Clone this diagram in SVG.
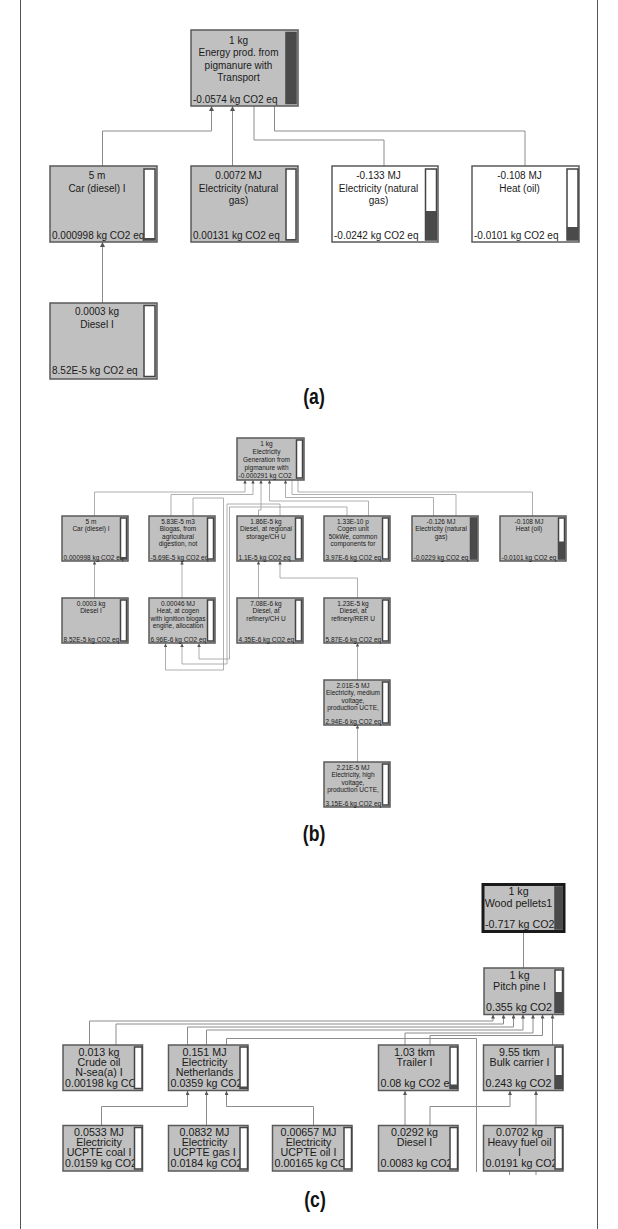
<svg xmlns="http://www.w3.org/2000/svg" width="618" height="1229" viewBox="0 0 618 1229">
<style>
.bg{fill:#fff}
.frame{stroke:#555;stroke-width:1;fill:none}
.n{fill:#c0c0c0;stroke:#5a5a5a;stroke-width:1.5}
.nw{fill:#fff;stroke:#5a5a5a;stroke-width:1.5}
.sel{fill:#c0c0c0;stroke:#1a1a1a;stroke-width:3}
.bar{fill:#fff;stroke:#444;stroke-width:1.5}
.bd{fill:#4a4a4a}
.c{fill:none;stroke:#8c8c8c;stroke-width:1}
.cb{fill:none;stroke:#9a9a9a;stroke-width:0.8}
text{font-family:"Liberation Sans",Arial,sans-serif;fill:#1a1a1a}
.ta{font-size:10px}
.tb{font-size:6.5px}
.tc{font-size:10.7px}
.m{text-anchor:middle}
.lab{font-family:"Liberation Sans",Arial,sans-serif;font-weight:bold;font-size:22px;text-anchor:middle;fill:#111}
</style>
<defs>
<marker id="arA" viewBox="0 0 10 10" refX="10" refY="5" markerWidth="6" markerHeight="5" markerUnits="userSpaceOnUse" orient="auto"><path d="M0,0L10,5L0,10z" fill="#555"/></marker>
<marker id="arB" viewBox="0 0 10 10" refX="10" refY="5" markerWidth="4" markerHeight="3.5" markerUnits="userSpaceOnUse" orient="auto"><path d="M0,0L10,5L0,10z" fill="#555"/></marker>
<marker id="arC" viewBox="0 0 10 10" refX="10" refY="5" markerWidth="5" markerHeight="4" markerUnits="userSpaceOnUse" orient="auto"><path d="M0,0L10,5L0,10z" fill="#555"/></marker>
<clipPath id="kWood"><rect x="483" y="884" width="72" height="48"/></clipPath>
<clipPath id="kPitch"><rect x="484" y="968" width="70.5" height="46"/></clipPath>
<clipPath id="kCrude"><rect x="63" y="1045" width="71.5" height="45.5"/></clipPath>
<clipPath id="kNL"><rect x="168.5" y="1045" width="71.5" height="45.5"/></clipPath>
<clipPath id="kTrl"><rect x="378.5" y="1045" width="71.5" height="45.5"/></clipPath>
<clipPath id="kBulk"><rect x="483.5" y="1045" width="71.5" height="45.5"/></clipPath>
<clipPath id="kCoal"><rect x="63" y="1125.5" width="71.5" height="45.5"/></clipPath>
<clipPath id="kGas"><rect x="168.5" y="1125.5" width="71.5" height="45.5"/></clipPath>
<clipPath id="kOil"><rect x="272.5" y="1125.5" width="71.5" height="45.5"/></clipPath>
<clipPath id="kDsl"><rect x="378.5" y="1125.5" width="71.5" height="45.5"/></clipPath>
<clipPath id="kHfo"><rect x="483.5" y="1125.5" width="71.5" height="45.5"/></clipPath>
</defs>
<rect class="bg" x="0" y="0" width="618" height="1229"/>
<line class="frame" x1="20.5" y1="0" x2="20.5" y2="1229"/>
<line class="frame" x1="597.5" y1="0" x2="597.5" y2="1229"/>

<!-- ===== (a) ===== -->
<g id="conn-a">
<path class="c" d="M102.5,166V131H211.5V106" marker-end="url(#arA)"/>
<path class="c" d="M232.5,166V106" marker-end="url(#arA)"/>
<path class="c" d="M384,166V140H254V106"/>
<path class="c" d="M525,166V131H274.5V106"/>
<path class="c" d="M102.5,303V242" marker-end="url(#arA)"/>
</g>
<g id="a-top">
<rect class="n" x="191" y="30" width="107" height="76"/>
<text class="ta m" x="238.5" y="43.5">1 kg</text>
<text class="ta m" x="238.5" y="56">Energy prod. from</text>
<text class="ta m" x="238.5" y="68.5">pigmanure with</text>
<text class="ta m" x="238.5" y="81">Transport</text>
<text class="ta" x="193" y="102.5">-0.0574 kg CO2 eq</text>
<rect class="bar" x="286" y="32.5" width="10" height="71"/>
<rect class="bd" x="286" y="32.5" width="10" height="71"/>
</g>
<g id="a-car">
<rect class="n" x="50" y="166" width="107" height="76"/>
<text class="ta m" x="97" y="179">5 m</text>
<text class="ta m" x="97" y="191.5">Car (diesel) I</text>
<text class="ta" x="52" y="238.5">0.000998 kg CO2 eq</text>
<rect class="bar" x="144" y="169" width="11" height="71"/>
<rect class="bd" x="144" y="238" width="11" height="2"/>
</g>
<g id="a-elec">
<rect class="n" x="191" y="166" width="107" height="76"/>
<text class="ta m" x="238.5" y="179">0.0072 MJ</text>
<text class="ta m" x="238.5" y="191.5">Electricity (natural</text>
<text class="ta m" x="238.5" y="204">gas)</text>
<text class="ta" x="193" y="238.5">0.00131 kg CO2 eq</text>
<rect class="bar" x="286" y="169" width="10" height="71"/>
<rect class="bd" x="286" y="239" width="10" height="1"/>
</g>
<g id="a-elec2">
<rect class="nw" x="332" y="166" width="106" height="76"/>
<text class="ta m" x="378.5" y="179">-0.133 MJ</text>
<text class="ta m" x="378.5" y="191.5">Electricity (natural</text>
<text class="ta m" x="378.5" y="204">gas)</text>
<text class="ta" x="334" y="238.5">-0.0242 kg CO2 eq</text>
<rect class="bar" x="425.5" y="169" width="11" height="71"/>
<rect class="bd" x="425.5" y="211" width="11" height="29"/>
</g>
<g id="a-heat">
<rect class="nw" x="472" y="166" width="107" height="76"/>
<text class="ta m" x="519.5" y="179">-0.108 MJ</text>
<text class="ta m" x="519.5" y="191.5">Heat (oil)</text>
<text class="ta" x="474" y="238.5">-0.0101 kg CO2 eq</text>
<rect class="bar" x="567" y="169" width="11" height="71"/>
<rect class="bd" x="567" y="227" width="11" height="13"/>
</g>
<g id="a-diesel">
<rect class="n" x="50" y="303" width="107" height="76"/>
<text class="ta m" x="97" y="315">0.0003 kg</text>
<text class="ta m" x="97" y="327.5">Diesel I</text>
<text class="ta" x="52" y="374">8.52E-5 kg CO2 eq</text>
<rect class="bar" x="144" y="305.5" width="11" height="71"/>
</g>
<text class="lab" transform="translate(314,404) scale(0.8,1)" x="0" y="0">(a)</text>

<!-- ===== (b) ===== -->
<g id="conn-b">
<path class="cb" d="M94.5,516V492H245V480" marker-end="url(#arB)"/>
<path class="cb" d="M171,516V494.5H253V480" marker-end="url(#arB)"/>
<path class="cb" d="M193,516V498H223.5V670H165.5V643.5" marker-end="url(#arB)"/>
<path class="cb" d="M258.5,516V510H261V480" marker-end="url(#arB)"/>
<path class="cb" d="M280,516V504H227V664H182V643.5" marker-end="url(#arB)"/>
<path class="cb" d="M347,516V507H229.5V659H199V643.5" marker-end="url(#arB)"/>
<path class="cb" d="M368.5,516V501H269.5V480" marker-end="url(#arB)"/>
<path class="cb" d="M433.5,516V497.5H285.5V480" marker-end="url(#arB)"/>
<path class="cb" d="M456,516V494.5H292V480"/>
<path class="cb" d="M532.5,516V492H298V480"/>
<path class="cb" d="M94.5,598V561" marker-end="url(#arB)"/>
<path class="cb" d="M182,598V561" marker-end="url(#arB)"/>
<path class="cb" d="M258.5,598V561" marker-end="url(#arB)"/>
<path class="cb" d="M357.5,598V578H280V561" marker-end="url(#arB)"/>
<path class="cb" d="M357.5,680V643" marker-end="url(#arB)"/>
<path class="cb" d="M357.5,762V725" marker-end="url(#arB)"/>
</g>
<g id="b-top">
<rect class="n" x="237" y="438" width="67" height="42"/>
<text class="tb m" x="266.5" y="446">1 kg</text>
<text class="tb m" x="266.5" y="454">Electricity</text>
<text class="tb m" x="266.5" y="462">Generation from</text>
<text class="tb m" x="266.5" y="470">pigmanure with</text>
<text class="tb" x="238.5" y="477.5">-0.000291 kg CO2</text>
<rect class="bar" x="296.5" y="440" width="6" height="38"/>
</g>
<g id="b-car">
<rect class="n" x="62" y="516" width="66" height="45"/>
<text class="tb m" x="91" y="523.5">5 m</text>
<text class="tb m" x="91" y="531">Car (diesel) I</text>
<text class="tb" x="63.5" y="559.5">0.000998 kg CO2 eq</text>
<rect class="bar" x="120.5" y="518" width="6" height="41"/>
<rect class="bd" x="120.5" y="557" width="6" height="2"/>
</g>
<g id="b-biogas">
<rect class="n" x="149" y="516" width="66" height="45"/>
<text class="tb m" x="178" y="523.5">5.83E-5 m3</text>
<text class="tb m" x="178" y="531">Biogas, from</text>
<text class="tb m" x="178" y="538.5">agricultural</text>
<text class="tb m" x="178" y="546">digestion, not</text>
<text class="tb" x="150.5" y="559.5">-5.69E-5 kg CO2 eq</text>
<rect class="bar" x="207.5" y="518" width="6" height="41"/>
</g>
<g id="b-dieselreg">
<rect class="n" x="237" y="516" width="66" height="45"/>
<text class="tb m" x="266" y="523.5">1.86E-5 kg</text>
<text class="tb m" x="266" y="531">Diesel, at regional</text>
<text class="tb m" x="266" y="538.5">storage/CH U</text>
<text class="tb" x="238.5" y="559.5">1.1E-5 kg CO2 eq</text>
<rect class="bar" x="295.5" y="518" width="6" height="41"/>
</g>
<g id="b-cogen">
<rect class="n" x="324" y="516" width="66" height="45"/>
<text class="tb m" x="353" y="523.5">1.33E-10 p</text>
<text class="tb m" x="353" y="531">Cogen unit</text>
<text class="tb m" x="353" y="538.5">50kWe, common</text>
<text class="tb m" x="353" y="546">components for</text>
<text class="tb" x="325.5" y="559.5">3.97E-6 kg CO2 eq</text>
<rect class="bar" x="382.5" y="518" width="6" height="41"/>
</g>
<g id="b-elecng">
<rect class="n" x="412" y="516" width="66" height="45"/>
<text class="tb m" x="441" y="523.5">-0.126 MJ</text>
<text class="tb m" x="441" y="531">Electricity (natural</text>
<text class="tb m" x="441" y="538.5">gas)</text>
<text class="tb" x="413.5" y="559.5">-0.0229 kg CO2 eq</text>
<rect class="bar" x="470.5" y="518" width="6" height="41"/>
<rect class="bd" x="470.5" y="518" width="6" height="41"/>
</g>
<g id="b-heatoil">
<rect class="n" x="500" y="516" width="66" height="45"/>
<text class="tb m" x="529" y="523.5">-0.108 MJ</text>
<text class="tb m" x="529" y="531">Heat (oil)</text>
<text class="tb" x="501.5" y="559.5">-0.0101 kg CO2 eq</text>
<rect class="bar" x="558.5" y="518" width="6" height="41"/>
<rect class="bd" x="558.5" y="541.5" width="6" height="17.5"/>
</g>
<g id="b-diesel">
<rect class="n" x="62" y="598" width="66" height="45"/>
<text class="tb m" x="91" y="605.5">0.0003 kg</text>
<text class="tb m" x="91" y="613">Diesel I</text>
<text class="tb" x="63.5" y="641.5">8.52E-5 kg CO2 eq</text>
<rect class="bar" x="120.5" y="600" width="6" height="41"/>
</g>
<g id="b-heatcogen">
<rect class="n" x="149" y="598" width="66" height="45"/>
<text class="tb m" x="178" y="605.5">0.00046 MJ</text>
<text class="tb m" x="178" y="613">Heat, at cogen</text>
<text class="tb m" x="178" y="620.5">with ignition biogas</text>
<text class="tb m" x="178" y="628">engine, allocation</text>
<text class="tb" x="150.5" y="641.5">6.96E-6 kg CO2 eq</text>
<rect class="bar" x="207.5" y="600" width="6" height="41"/>
</g>
<g id="b-dieselch">
<rect class="n" x="237" y="598" width="66" height="45"/>
<text class="tb m" x="266" y="605.5">7.08E-6 kg</text>
<text class="tb m" x="266" y="613">Diesel, at</text>
<text class="tb m" x="266" y="620.5">refinery/CH U</text>
<text class="tb" x="238.5" y="641.5">4.35E-6 kg CO2 eq</text>
<rect class="bar" x="295.5" y="600" width="6" height="41"/>
</g>
<g id="b-dieselrer">
<rect class="n" x="324" y="598" width="66" height="45"/>
<text class="tb m" x="353" y="605.5">1.23E-5 kg</text>
<text class="tb m" x="353" y="613">Diesel, at</text>
<text class="tb m" x="353" y="620.5">refinery/RER U</text>
<text class="tb" x="325.5" y="641.5">5.87E-6 kg CO2 eq</text>
<rect class="bar" x="382.5" y="600" width="6" height="41"/>
</g>
<g id="b-elecmed">
<rect class="n" x="324" y="680" width="66" height="45"/>
<text class="tb m" x="353" y="687.5">2.01E-5 MJ</text>
<text class="tb m" x="353" y="695">Electricity, medium</text>
<text class="tb m" x="353" y="702.5">voltage,</text>
<text class="tb m" x="353" y="710">production UCTE,</text>
<text class="tb" x="325.5" y="723.5">2.94E-6 kg CO2 eq</text>
<rect class="bar" x="382.5" y="682" width="6" height="41"/>
</g>
<g id="b-elechigh">
<rect class="n" x="324" y="762" width="66" height="45"/>
<text class="tb m" x="353" y="769.5">2.21E-5 MJ</text>
<text class="tb m" x="353" y="777">Electricity, high</text>
<text class="tb m" x="353" y="784.5">voltage,</text>
<text class="tb m" x="353" y="792">production UCTE,</text>
<text class="tb" x="325.5" y="805.5">3.15E-6 kg CO2 eq</text>
<rect class="bar" x="382.5" y="764" width="6" height="41"/>
</g>
<text class="lab" transform="translate(314,841) scale(0.8,1)" x="0" y="0">(b)</text>

<!-- ===== (c) ===== -->
<g id="conn-c">
<path class="c" d="M523.5,933V968"/>
<path class="c" d="M89.5,1045V1021H493V1014.5" marker-end="url(#arC)"/>
<path class="c" d="M116,1045V1024H503.5V1014.5" marker-end="url(#arC)"/>
<path class="c" d="M187.5,1045V1027H513.5V1014.5" marker-end="url(#arC)"/>
<path class="c" d="M206.5,1045V1030H523V1014.5" marker-end="url(#arC)"/>
<path class="c" d="M405,1045V1033H533V1014.5" marker-end="url(#arC)"/>
<path class="c" d="M430,1045V1035.5H542.5V1014.5" marker-end="url(#arC)"/>
<path class="c" d="M552.5,1045V1014.5" marker-end="url(#arC)"/>
<path class="c" d="M226.5,1045V1038.5H476.5V1172"/>
<path class="c" d="M101.5,1125.5V1106.5H187.5V1091" marker-end="url(#arC)"/>
<path class="c" d="M206.5,1125.5V1091" marker-end="url(#arC)"/>
<path class="c" d="M313.5,1125.5V1106.5H226.5V1091" marker-end="url(#arC)"/>
<path class="c" d="M405,1125.5V1091" marker-end="url(#arC)"/>
<path class="c" d="M430,1125.5V1106.5H510V1091" marker-end="url(#arC)"/>
<path class="c" d="M536,1125.5V1091" marker-end="url(#arC)"/>
<path class="c" d="M509.5,1171V1175M536,1171V1175"/>
</g>
<g id="c-wood">
<rect class="sel" x="483" y="884.5" width="81" height="47"/>
<text class="tc m" x="518.5" y="895">1 kg</text>
<text class="tc m" x="518.5" y="906.5">Wood pellets1</text>
<text class="tc" x="485" y="928" clip-path="url(#kWood)">-0.717 kg CO2</text>
<rect class="bar" x="555" y="887" width="7" height="42"/>
<rect class="bd" x="555" y="887" width="7" height="42"/>
</g>
<g id="c-pitch">
<rect class="n" x="484" y="968" width="79.5" height="46.5"/>
<text class="tc m" x="519.5" y="978.5">1 kg</text>
<text class="tc m" x="519.5" y="989.5">Pitch pine I</text>
<text class="tc" x="486" y="1011" clip-path="url(#kPitch)">0.355 kg CO2</text>
<rect class="bar" x="555" y="970" width="7.5" height="42.5"/>
<rect class="bd" x="555" y="992" width="7.5" height="20.5"/>
</g>
<g id="c-crude">
<rect class="n" x="63" y="1045" width="79.5" height="45.5"/>
<text class="tc m" x="99" y="1055.5">0.013 kg</text>
<text class="tc m" x="99" y="1065.5">Crude oil</text>
<text class="tc m" x="99" y="1075.5">N-sea(a) I</text>
<text class="tc" x="65" y="1086.5" clip-path="url(#kCrude)">0.00198 kg CO</text>
<rect class="bar" x="134.5" y="1047" width="7.5" height="41.5"/>
</g>
<g id="c-elecnl">
<rect class="n" x="168.5" y="1045" width="79.5" height="45.5"/>
<text class="tc m" x="204.5" y="1055.5">0.151 MJ</text>
<text class="tc m" x="204.5" y="1065.5">Electricity</text>
<text class="tc m" x="204.5" y="1075.5">Netherlands</text>
<text class="tc" x="170.5" y="1086.5" clip-path="url(#kNL)">0.0359 kg CO2</text>
<rect class="bar" x="240" y="1047" width="7.5" height="41.5"/>
<rect class="bd" x="240" y="1086.5" width="7.5" height="2"/>
</g>
<g id="c-trailer">
<rect class="n" x="378.5" y="1045" width="79.5" height="45.5"/>
<text class="tc m" x="414.5" y="1055.5">1.03 tkm</text>
<text class="tc m" x="414.5" y="1065.5">Trailer I</text>
<text class="tc" x="380.5" y="1086.5" clip-path="url(#kTrl)">0.08 kg CO2 eq</text>
<rect class="bar" x="450" y="1047" width="7.5" height="41.5"/>
<rect class="bd" x="450" y="1084.5" width="7.5" height="4"/>
</g>
<g id="c-bulk">
<rect class="n" x="483.5" y="1045" width="79.5" height="45.5"/>
<text class="tc m" x="519.5" y="1055.5">9.55 tkm</text>
<text class="tc m" x="519.5" y="1065.5">Bulk carrier I</text>
<text class="tc" x="485.5" y="1086.5" clip-path="url(#kBulk)">0.243 kg CO2</text>
<rect class="bar" x="555" y="1047" width="7.5" height="41.5"/>
<rect class="bd" x="555" y="1075" width="7.5" height="13.5"/>
</g>
<g id="c-coal">
<rect class="n" x="63" y="1125.5" width="79.5" height="45.5"/>
<text class="tc m" x="99" y="1136">0.0533 MJ</text>
<text class="tc m" x="99" y="1146">Electricity</text>
<text class="tc m" x="99" y="1156">UCPTE coal I</text>
<text class="tc" x="65" y="1167" clip-path="url(#kCoal)">0.0159 kg CO2</text>
<rect class="bar" x="134.5" y="1127.5" width="7.5" height="41.5"/>
</g>
<g id="c-gas">
<rect class="n" x="168.5" y="1125.5" width="79.5" height="45.5"/>
<text class="tc m" x="204.5" y="1136">0.0832 MJ</text>
<text class="tc m" x="204.5" y="1146">Electricity</text>
<text class="tc m" x="204.5" y="1156">UCPTE gas I</text>
<text class="tc" x="170.5" y="1167" clip-path="url(#kGas)">0.0184 kg CO2</text>
<rect class="bar" x="240" y="1127.5" width="7.5" height="41.5"/>
</g>
<g id="c-oil">
<rect class="n" x="272.5" y="1125.5" width="79.5" height="45.5"/>
<text class="tc m" x="308.5" y="1136">0.00657 MJ</text>
<text class="tc m" x="308.5" y="1146">Electricity</text>
<text class="tc m" x="308.5" y="1156">UCPTE oil I</text>
<text class="tc" x="274.5" y="1167" clip-path="url(#kOil)">0.00165 kg CO</text>
<rect class="bar" x="344" y="1127.5" width="7.5" height="41.5"/>
</g>
<g id="c-diesel">
<rect class="n" x="378.5" y="1125.5" width="79.5" height="45.5"/>
<text class="tc m" x="414.5" y="1136">0.0292 kg</text>
<text class="tc m" x="414.5" y="1146">Diesel I</text>
<text class="tc" x="380.5" y="1167" clip-path="url(#kDsl)">0.0083 kg CO2</text>
<rect class="bar" x="450" y="1127.5" width="7.5" height="41.5"/>
</g>
<g id="c-hfo">
<rect class="n" x="483.5" y="1125.5" width="79.5" height="45.5"/>
<text class="tc m" x="519.5" y="1136">0.0702 kg</text>
<text class="tc m" x="519.5" y="1146">Heavy fuel oil</text>
<text class="tc m" x="519.5" y="1156">I</text>
<text class="tc" x="485.5" y="1167" clip-path="url(#kHfo)">0.0191 kg CO2</text>
<rect class="bar" x="555" y="1127.5" width="7.5" height="41.5"/>
</g>
<text class="lab" transform="translate(315,1207) scale(0.8,1)" x="0" y="0">(c)</text>
</svg>
